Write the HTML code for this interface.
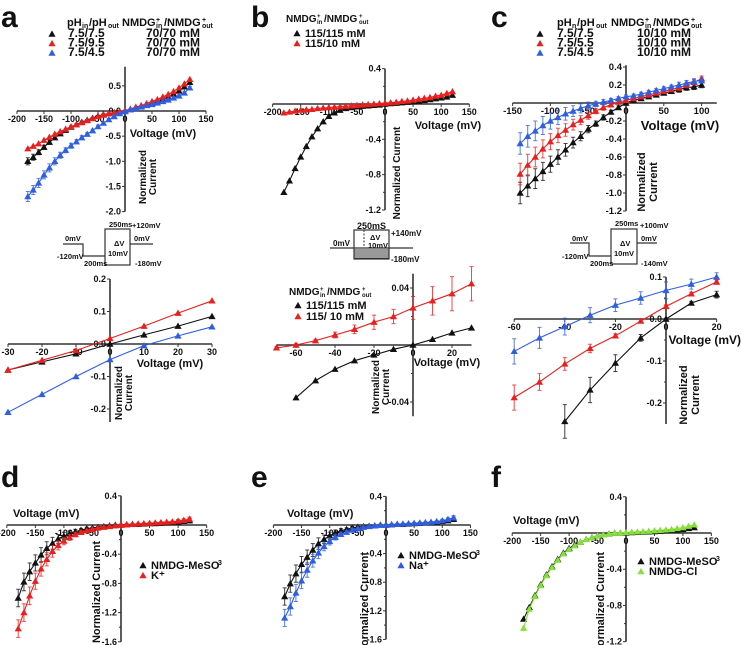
<!DOCTYPE html>
<html><head><meta charset="utf-8"><style>
body{margin:0;background:#fff}
svg{display:block;font-family:"Liberation Sans",sans-serif;font-weight:bold}
</style></head><body>
<svg id="fig" width="741" height="645" viewBox="0 0 741 645"></svg>
<script>
// ---------- data ----------
const vA1 = [-180,-170,-160,-150,-140,-130,-120,-110,-100,-90,-80,-70,-60,-50,-40,-30,-20,-10,0,10,20,30,40,50,60,70,80,90,100,110,120];
const a1Black = [-1.0,-0.92,-0.82,-0.72,-0.62,-0.53,-0.45,-0.38,-0.32,-0.27,-0.22,-0.18,-0.14,-0.1,-0.07,-0.05,-0.03,-0.01,0,0.03,0.06,0.09,0.12,0.15,0.19,0.23,0.28,0.34,0.4,0.48,0.57];
const a1Red = [-0.75,-0.7,-0.65,-0.58,-0.52,-0.46,-0.41,-0.36,-0.31,-0.27,-0.23,-0.19,-0.15,-0.11,-0.08,-0.05,-0.03,-0.01,0.01,0.04,0.08,0.11,0.15,0.19,0.23,0.28,0.33,0.39,0.46,0.54,0.63];
const a1Blue = [-1.7,-1.57,-1.43,-1.27,-1.13,-1.0,-0.88,-0.78,-0.69,-0.61,-0.53,-0.46,-0.39,-0.31,-0.24,-0.17,-0.11,-0.05,-0.01,0.03,0.05,0.08,0.11,0.13,0.16,0.19,0.22,0.26,0.3,0.36,0.46];
const a1BlackErr = [0.07,0.06,0.05,0.04,0.04,0.03,0.03,0.02,0.02,0.02,0.02,0.01,0.01,0.01,0.01,0.01,0.01,0.01,0,0.01,0.01,0.01,0.01,0.01,0.01,0.01,0.02,0.02,0.02,0.03,0.03];
const a1BlueErr = [0.1,0.09,0.09,0.08,0.08,0.07,0.06,0.05,0.05,0.04,0.04,0.03,0.03,0.03,0.02,0.02,0.02,0.01,0.01,0.01,0.01,0.01,0.01,0.01,0.01,0.01,0.02,0.02,0.02,0.02,0.03];

const vA2 = [-30,-20,-10,0,10,20,30];
const a2Black = [-0.08,-0.055,-0.03,0,0.028,0.055,0.085];
const a2Red = [-0.08,-0.05,-0.02,0.017,0.055,0.095,0.133];
const a2Blue = [-0.21,-0.155,-0.1,-0.048,-0.005,0.025,0.053];

const vB1 = vA1;
const b1Black = [-1.0,-0.87,-0.73,-0.6,-0.48,-0.37,-0.28,-0.2,-0.14,-0.1,-0.07,-0.05,-0.04,-0.03,-0.025,-0.02,-0.015,-0.01,0,0.005,0.01,0.015,0.02,0.025,0.03,0.04,0.05,0.06,0.07,0.08,0.1];
const b1Red = [-0.1,-0.09,-0.08,-0.07,-0.065,-0.06,-0.05,-0.045,-0.04,-0.035,-0.03,-0.025,-0.02,-0.015,-0.01,-0.005,0,0.005,0.01,0.015,0.02,0.03,0.035,0.045,0.055,0.065,0.075,0.09,0.1,0.12,0.14];

const vB2 = [-70,-60,-50,-40,-30,-20,-10,0,10,20,30];
const b2Red = [-0.002,0,0.003,0.007,0.011,0.016,0.02,0.026,0.031,0.036,0.043];
const b2RedErr = [0.001,0.001,0.001,0.002,0.003,0.005,0.005,0.008,0.01,0.012,0.012];
const vB2k = [-60,-50,-40,-30,-20,-10,0,10,20,30];
const b2Black = [-0.037,-0.025,-0.017,-0.011,-0.007,-0.003,0,0.004,0.0085,0.012];

const vC1 = [-140,-130,-120,-110,-100,-90,-80,-70,-60,-50,-40,-30,-20,-10,0,10,20,30,40,50,60,70,80,90,100];
const c1Black = [-1.0,-0.92,-0.84,-0.76,-0.68,-0.6,-0.52,-0.44,-0.37,-0.29,-0.23,-0.16,-0.1,-0.05,0,0.03,0.05,0.07,0.09,0.11,0.13,0.15,0.17,0.18,0.2];
const c1Red = [-0.79,-0.69,-0.6,-0.51,-0.43,-0.36,-0.3,-0.24,-0.19,-0.14,-0.09,-0.05,-0.02,0.01,0.03,0.05,0.07,0.09,0.11,0.13,0.15,0.17,0.2,0.23,0.27];
const c1Blue = [-0.45,-0.37,-0.31,-0.25,-0.2,-0.16,-0.12,-0.09,-0.06,-0.03,-0.01,0.01,0.03,0.05,0.07,0.08,0.1,0.12,0.14,0.16,0.18,0.2,0.22,0.24,0.25];
const c1Err = [0.12,0.12,0.11,0.1,0.09,0.08,0.07,0.06,0.05,0.04,0.03,0.03,0.02,0.02,0.02,0.02,0.02,0.02,0.02,0.02,0.02,0.03,0.03,0.03,0.03];

const vC2 = [-60,-50,-40,-30,-20,-10,0,10,20];
const c2Blue = [-0.077,-0.045,-0.018,0.009,0.033,0.05,0.068,0.083,0.1];
const c2BlueErr = [0.03,0.025,0.02,0.018,0.015,0.015,0.02,0.012,0.01];
const c2Red = [-0.187,-0.15,-0.107,-0.07,-0.04,-0.005,0.03,0.06,0.088];
const c2RedErr = [0.03,0.02,0.015,0.01,0.005,0.004,0.004,0.004,0.005];
const vC2k = [-40,-30,-20,-10,0,10,20];
const c2Black = [-0.244,-0.169,-0.105,-0.045,0,0.038,0.058];
const c2BlackErr = [0.04,0.03,0.02,0.008,0.002,0.004,0.008];

const vD = vA1;
const dBlack = [-1.0,-0.78,-0.64,-0.52,-0.41,-0.32,-0.25,-0.19,-0.15,-0.12,-0.09,-0.07,-0.05,-0.04,-0.03,-0.02,-0.01,0,0,0.005,0.01,0.01,0.015,0.02,0.02,0.025,0.03,0.035,0.04,0.05,0.06];
const dRed = [-1.42,-1.2,-0.97,-0.77,-0.6,-0.47,-0.36,-0.28,-0.22,-0.17,-0.13,-0.1,-0.08,-0.06,-0.04,-0.03,-0.02,-0.01,0,0.005,0.01,0.015,0.02,0.025,0.03,0.035,0.04,0.045,0.055,0.065,0.08];
const dErr = [0.12,0.12,0.12,0.11,0.1,0.09,0.08,0.06,0.05,0.04,0.03,0.02,0.02,0.01,0.01,0.01,0.01,0.01,0.01,0.01,0.01,0.01,0.01,0.01,0.01,0.01,0.01,0.01,0.02,0.02,0.03];
const eBlack = [-1.0,-0.82,-0.68,-0.55,-0.45,-0.35,-0.26,-0.2,-0.15,-0.11,-0.08,-0.06,-0.04,-0.03,-0.02,-0.015,-0.01,0,0,0.005,0.01,0.01,0.015,0.02,0.025,0.03,0.035,0.04,0.05,0.06,0.08];
const eBlue = [-1.3,-1.14,-0.95,-0.78,-0.63,-0.5,-0.39,-0.3,-0.23,-0.17,-0.13,-0.1,-0.07,-0.05,-0.03,-0.02,-0.01,0,0,0.005,0.01,0.015,0.02,0.025,0.03,0.035,0.04,0.05,0.06,0.08,0.1];
const fBlack = [-0.95,-0.82,-0.69,-0.57,-0.46,-0.37,-0.29,-0.22,-0.17,-0.13,-0.1,-0.07,-0.05,-0.03,-0.02,-0.01,0,0,0,0.005,0.008,0.01,0.013,0.016,0.02,0.025,0.03,0.035,0.04,0.05,0.06];
const fGreen = [-1.05,-0.84,-0.7,-0.58,-0.47,-0.38,-0.3,-0.23,-0.18,-0.14,-0.1,-0.07,-0.05,-0.03,-0.02,-0.01,0,0,0.005,0.01,0.013,0.016,0.02,0.025,0.03,0.035,0.04,0.05,0.06,0.075,0.09];

const ticksV200 = [-200,-150,-100,-50,0,50,100,150];

const K='#111', R='#e8211f', B='#2f5fe0', G='#86e03c', AX='#333';
const NS='http://www.w3.org/2000/svg';
const svg=document.getElementById('fig');
function el(tag,attrs,parent,text){const e=document.createElementNS(NS,tag);for(const k in attrs)e.setAttribute(k,attrs[k]);if(text!==undefined)e.textContent=text;(parent||svg).appendChild(e);return e;}
function grp(name){const g=el('g',{},svg);


return g;}
function txt(g,x,y,s,size,anchor,name,rot){const t=el('text',{x:x,y:y,'font-size':size,'text-anchor':anchor||'start',fill:'#111'},g,s);
if(rot)t.setAttribute('transform','rotate(-90 '+x+' '+y+')');


return t;}
function tri(g,x,y,c,sz){const s=sz||3.6;const p=el('polygon',{points:(x)+','+(y-s)+' '+(x-s)+','+(y+s*0.75)+' '+(x+s)+','+(y+s*0.75),fill:c},g);


return p;}

function panel(cfg){
  const g=grp(cfg.name);
  const X=v=>cfg.x0+v*cfg.sx, Y=v=>cfg.y0-v*cfg.sy;
  const xa=el('line',{x1:X(cfg.xr[0]),x2:X(cfg.xr[1]),y1:cfg.y0,y2:cfg.y0,stroke:AX,'stroke-width':1.6},g);
  
  const ya=el('line',{x1:cfg.x0,x2:cfg.x0,y1:Y(cfg.yr[1]),y2:Y(cfg.yr[0]),stroke:AX,'stroke-width':1.6},g);
  
  cfg.xt.forEach(v=>{el('line',{x1:X(v),x2:X(v),y1:cfg.y0,y2:cfg.y0+3,stroke:AX,'stroke-width':1},g);
    txt(g,X(v),cfg.y0+11,String(v),cfg.fs||9,'middle','x-tick-label');});
  cfg.yt.forEach((v,i)=>{el('line',{x1:cfg.x0-3,x2:cfg.x0,y1:Y(v),y2:Y(v),stroke:AX,'stroke-width':1},g);
    txt(g,cfg.x0-4,Y(v)+3,cfg.ytl[i],cfg.fs||9,'end','y-tick-label');});
  (cfg.ym||[]).forEach(v=>el('line',{x1:cfg.x0-2,x2:cfg.x0,y1:Y(v),y2:Y(v),stroke:AX,'stroke-width':1},g));
  cfg.series.forEach(s=>{
    const sg=el('g',{},g);
    
    
    const pts=s.x.map((v,i)=>X(v).toFixed(1)+','+Y(s.y[i]).toFixed(1)).join(' ');
    el('polyline',{points:pts,fill:'none',stroke:s.c,'stroke-width':1.1},sg);
    if(s.e) s.x.forEach((v,i)=>{const e=s.e[i];if(!e)return;const x=X(v);
      el('path',{d:`M${x},${Y(s.y[i]-e)}V${Y(s.y[i]+e)}M${x-2},${Y(s.y[i]-e)}h4M${x-2},${Y(s.y[i]+e)}h4`,stroke:s.c,'stroke-width':1,fill:'none',opacity:0.8},sg);});
    s.x.forEach((v,i)=>tri(sg,X(v),Y(s.y[i]),s.c,cfg.ms));
  });
  return g;
}

[['a',1,27],['b',251,27],['c',491,27],['d',1,487],['e',251,487],['f',491,487]].forEach(p=>txt(svg,p[1],p[2],p[0],30,'start','panel-label-'+p[0]));

let g=panel({name:'panel-a-iv',x0:125,sx:0.54,y0:111,sy:50.3,xr:[-200,150],yr:[-2.0,0.88],xt:ticksV200,yt:[0.5,0,-0.5,-1,-1.5,-2],ytl:['0.5','0.0','-0.5','-1.0','-1.5','-2.0'],
 series:[{name:'series-ph75-75',x:vA1,y:a1Black,c:K,e:a1BlackErr},{name:'series-ph75-95',x:vA1,y:a1Red,c:R},{name:'series-ph75-45',x:vA1,y:a1Blue,c:B,e:a1BlueErr}]});
txt(g,163,137,'Voltage (mV)',11,'middle','x-axis-title');
txt(g,146,177,'Normalized',10,'middle','y-axis-title',true);
txt(g,156,177,'Current',10,'middle','y-axis-title',true);
g=grp('legend-a');
txt(g,67,26,'pH',11);txt(g,82,28,'in',7);txt(g,89,26,'/pH',11);txt(g,108,28,'out',7);
txt(g,122,26,'NMDG',11);txt(g,156,22,'+',7);txt(g,156,28,'in',7);txt(g,164,26,'/NMDG',11);txt(g,202,22,'+',7);txt(g,202,28,'out',7);
[['7.5/7.5',K],['7.5/9.5',R],['7.5/4.5',B]].forEach((r,i)=>{const y=37+i*9.5;tri(g,52,y-3,r[1]);txt(g,68,y,r[0],12);txt(g,146,y,'70/70 mM',12);});

function protocol(name,pts,box,labels){const g=grp(name);
 el('polyline',{points:pts,fill:'none',stroke:'#333','stroke-width':1.2},g);
 el('rect',{x:box[0],y:box[1],width:box[2],height:box[3],fill:'none',stroke:'#333','stroke-width':1.2},g);
 labels.forEach(l=>txt(g,l[0],l[1],l[2],l[3]||7.5,'start','protocol-label'));return g;}
protocol('protocol-a','63,244 83,244 83,256 105,256',[105,229,25,36],[[65,241,'0mV'],[57,259,'-120mV'],[84,266,'200ms'],[109,227,'250ms'],[132,228,'+120mV'],[114,246,'ΔV'],[108,256,'10mV'],[134,241,'0mV'],[135,266,'-180mV']]);
el('line',{x1:130,x2:153,y1:244,y2:244,stroke:'#333','stroke-width':1.2});

g=panel({name:'panel-a-zoom',x0:110,sx:3.4,y0:344,sy:325,xr:[-30,30],yr:[-0.24,0.2],xt:[-30,-20,-10,0,10,20,30],yt:[0.2,0.1,0,-0.1,-0.2],ytl:['0.2','0.1','0.0','-0.1','-0.2'],
 series:[{name:'series-ph75-75-zoom',x:vA2,y:a2Black,c:K},{name:'series-ph75-95-zoom',x:vA2,y:a2Red,c:R},{name:'series-ph75-45-zoom',x:vA2,y:a2Blue,c:B}]});
txt(g,170,367,'Voltage (mV)',11,'middle','x-axis-title');
txt(g,122,393,'Normalized',10,'middle','y-axis-title',true);
txt(g,132,393,'Current',10,'middle','y-axis-title',true);

g=panel({name:'panel-b-iv',x0:385,sx:0.562,y0:104,sy:88.3,xr:[-200,150],yr:[-1.2,0.4],xt:ticksV200,yt:[0.4,-0.4,-0.8,-1.2],ytl:['0.4','-0.4','-0.8','-1.2'],ym:[0.2,-0.2,-0.6,-1.0],
 series:[{name:'series-115-115',x:vB1,y:b1Black,c:K},{name:'series-115-10',x:vB1,y:b1Red,c:R}]});
txt(g,448,129,'Voltage (mV)',11,'middle','x-axis-title');
txt(g,400,173,'Normalized Current',10,'middle','y-axis-title',true);
g=grp('legend-b');
txt(g,286,22,'NMDG',10);txt(g,317,18,'+',6);txt(g,317,24,'in',6);txt(g,324,22,'/NMDG',10);txt(g,359,18,'+',6);txt(g,359,24,'out',6);
[['115/115  mM',K],['115/10    mM',R]].forEach((r,i)=>{const y=37+i*10;tri(g,297,y-3.5,r[1]);txt(g,305,y,r[0],11).setAttribute('xml:space','preserve');});
g=grp('protocol-b');
el('rect',{x:354,y:230,width:35,height:29,fill:'none',stroke:'#333','stroke-width':1.2},g);
for(let i=0;i<5;i++)el('line',{x1:354,x2:389,y1:250+i*2,y2:250+i*2,stroke:'#333','stroke-width':1.1},g);
el('line',{x1:330,x2:413,y1:248,y2:248,stroke:'#333','stroke-width':1.2},g);
el('line',{x1:364,x2:364,y1:230,y2:248,stroke:'#333','stroke-width':1,'stroke-dasharray':'2,1.5'},g);
[[357,229,'250mS',9],[391,236,'+140mV',8],[333,246,'0mV',8],[370,240,'ΔV',7.5],[368,248,'10mV',7.5],[391,262,'-180mV',8]].forEach(l=>txt(g,l[0],l[1],l[2],l[3],'start','protocol-label'));

g=panel({name:'panel-b-zoom',x0:413,sx:1.95,y0:345,sy:1425,xr:[-70,30],yr:[-0.05,0.05],xt:[-60,-40,-20,0,20],yt:[0.04,-0.04],ytl:['0.04','-0.04'],ym:[0.02,-0.02],
 series:[{name:'series-115-10-zoom',x:vB2,y:b2Red,c:R,e:b2RedErr},{name:'series-115-115-zoom',x:vB2k,y:b2Black,c:K}]});
txt(g,447,366,'Voltage (mV)',11,'middle','x-axis-title');
txt(g,379,387,'Normalized',10,'middle','y-axis-title',true);
txt(g,389,387,'Current',10,'middle','y-axis-title',true);
g=grp('legend-b-zoom');
txt(g,289,295,'NMDG',10);txt(g,320,291,'+',6);txt(g,320,297,'in',6);txt(g,327,295,'/NMDG',10);txt(g,362,291,'+',6);txt(g,362,297,'out',6);
[['115/115  mM',K],['115/  10  mM',R]].forEach((r,i)=>{const y=309+i*11;tri(g,298,y-3.5,r[1]);txt(g,306,y,r[0],11).setAttribute('xml:space','preserve');});

g=panel({name:'panel-c-iv',x0:626,sx:0.756,y0:103,sy:90,xr:[-150,120],yr:[-1.2,0.42],xt:[-150,-100,-50,0,50,100],yt:[0.4,0.2,-0.2,-0.4,-0.6,-0.8,-1.0,-1.2],ytl:['0.4','0.2','-0.2','-0.4','-0.6','-0.8','-1.0','-1.2'],fs:9.5,
 series:[{name:'series-c-75-75',x:vC1,y:c1Black,c:K,e:c1Err},{name:'series-c-75-55',x:vC1,y:c1Red,c:R,e:c1Err},{name:'series-c-75-45',x:vC1,y:c1Blue,c:B,e:c1Err}]});
txt(g,680,130,'Voltage (mV)',13,'middle','x-axis-title');
txt(g,645,182,'Normalized',11,'middle','y-axis-title',true);
txt(g,657,182,'Current',11,'middle','y-axis-title',true);
g=grp('legend-c');
txt(g,557,26,'pH',11);txt(g,572,28,'n',7);txt(g,577,26,'/pH',11);txt(g,596,28,'out',7);
txt(g,611,26,'NMDG',11);txt(g,645,22,'+',7);txt(g,645,28,'in',7);txt(g,653,26,'/NMDG',11);txt(g,691,22,'+',7);txt(g,691,28,'out',7);
[['7.5/7.5',K],['7.5/5.5',R],['7.5/4.5',B]].forEach((r,i)=>{const y=37+i*9.5;tri(g,540,y-3,r[1]);txt(g,557,y,r[0],12);txt(g,637,y,'10/10 mM',12);});
protocol('protocol-c','570,243 589,243 589,256 611,256',[611,229,26,35],[[572,241,'0mV'],[562,259,'-120mV'],[590,266,'200ms'],[615,226,'250ms'],[640,228,'+100mV'],[620,246,'ΔV'],[614,256,'10mV'],[641,241,'0mV'],[641,266,'-140mV']]);
el('line',{x1:637,x2:657,y1:243,y2:243,stroke:'#333','stroke-width':1.2});

g=panel({name:'panel-c-zoom',x0:666,sx:2.53,y0:319,sy:420,xr:[-60,20],yr:[-0.25,0.1],xt:[-60,-40,-20,0,20],yt:[0.1,0,-0.1,-0.2],ytl:['0.1','0.0','-0.1','-0.2'],ym:[0.05,-0.05,-0.15],
 series:[{name:'series-c-75-45-zoom',x:vC2,y:c2Blue,c:B,e:c2BlueErr},{name:'series-c-75-55-zoom',x:vC2,y:c2Red,c:R,e:c2RedErr},{name:'series-c-75-75-zoom',x:vC2k,y:c2Black,c:K,e:c2BlackErr}]});
txt(g,741,344,'Voltage (mV)',12,'end','x-axis-title');
txt(g,687,395,'Normalized',11,'middle','y-axis-title',true);
txt(g,699,395,'Current',11,'middle','y-axis-title',true);

function bottom(name,x0,sx,y0,sy,yt,ytl,ym,s1,s2,lx,ly,l2,c2,vx,vy,ncx,ncy){
  const g=panel({name:name,x0:x0,sx:sx,y0:y0,sy:sy,xr:[-200,150],yr:[yt[yt.length-1],0.4],xt:ticksV200,yt:yt,ytl:ytl,ym:ym,
   series:[{name:'series-nmdg-meso3',x:vD,y:s1.y,c:K,e:s1.e},{name:'series-'+l2.toLowerCase().replace(/[^a-z]/g,''),x:vD,y:s2.y,c:c2,e:s2.e}]});
  txt(g,vx,vy,'Voltage (mV)',11,'start','x-axis-title');
  txt(g,ncx,ncy,'Normalized Current',11,'middle','y-axis-title',true);
  const lg=grp('legend-'+name);
  tri(lg,lx,ly-3.5,K);txt(lg,lx+8,ly,'NMDG-MeSO',11);txt(lg,lx+75,ly-4,'3',7);
  tri(lg,lx,ly+6.5,c2);txt(lg,lx+8,ly+10,l2,11);
}
bottom('panel-d',121,0.571,525,73,[0.4,-0.4,-0.8,-1.2,-1.6],['0.4','-0.4','-0.8','-1.2','-1.6'],[0,-0.2,-0.6,-1.0,-1.4],{y:dBlack,e:dErr},{y:dRed,e:dErr},143,569,'K⁺',R,13,517,100,592);
bottom('panel-e',386,0.563,525,71.5,[0.4,-0.4,-0.8,-1.2,-1.6],['0.4','-0.4','-0.8','-1.2','-1.6'],[0.2,-0.2,-0.6,-1.0,-1.4],{y:eBlack,e:dErr},{y:eBlue,e:dErr},401,559,'Na⁺',B,287,517,368,603);
bottom('panel-f',626,0.569,533,90.6,[0.4,-0.4,-0.8,-1.2],['0.4','-0.4','-0.8','-1.2'],[0.2,-0.2,-0.6,-1.0],{y:fBlack},{y:fGreen},641,565,'NMDG-Cl',G,513,524,604,603);
</script>
</body></html>
